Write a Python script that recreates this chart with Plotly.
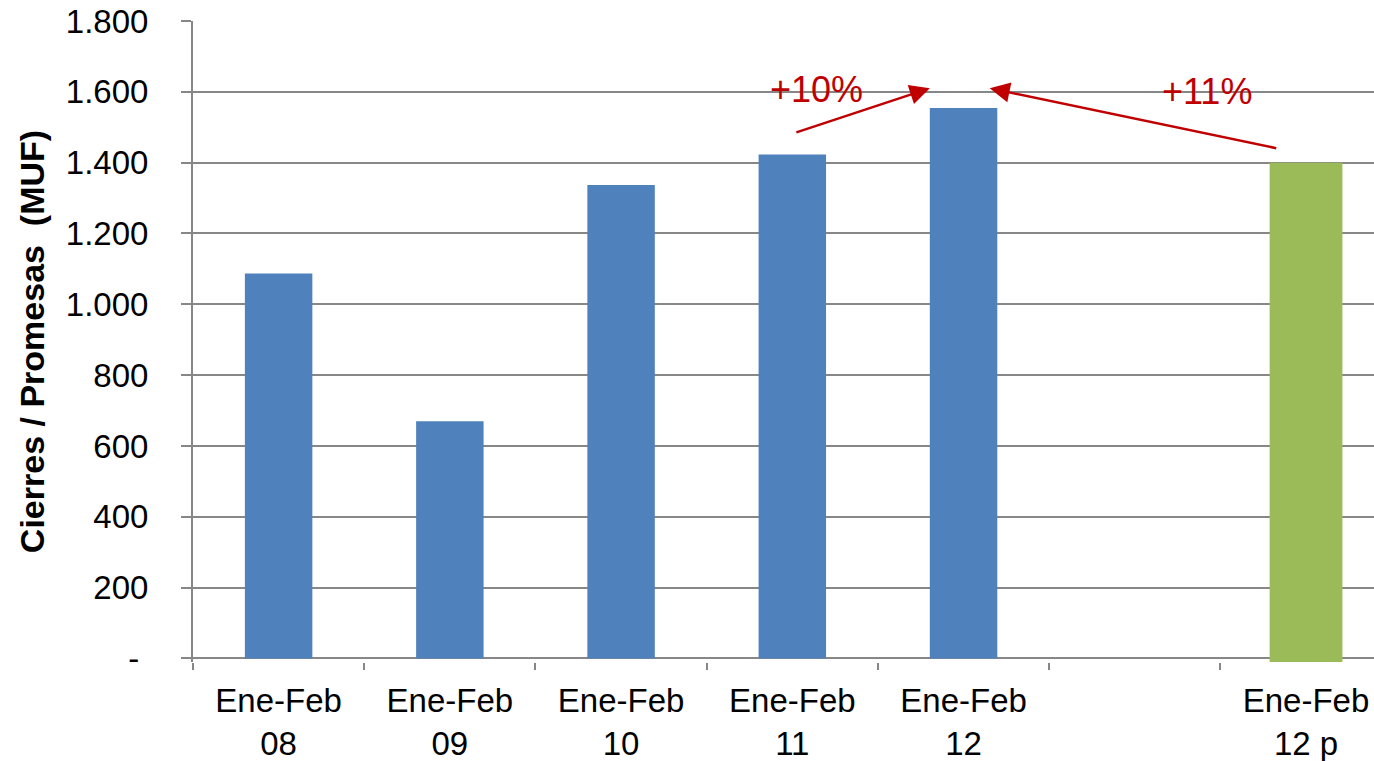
import plotly.graph_objects as go

categories = ["Ene-Feb<br>08", "Ene-Feb<br>09", "Ene-Feb<br>10", "Ene-Feb<br>11", "Ene-Feb<br>12", " ", "Ene-Feb<br>12 p"]
real_values = [1087, 670, 1337, 1423, 1554, None, None]
proj_values = [None, None, None, None, None, None, 1410]
proj_base = [0, 0, 0, 0, 0, 0, -10]
ytick_vals = [0, 200, 400, 600, 800, 1000, 1200, 1400, 1600, 1800]
ytick_text = ["-\u00a0", "200", "400", "600", "800", "1.000", "1.200", "1.400", "1.600", "1.800"]

fig = go.Figure()
fig.add_trace(go.Bar(x=categories, y=real_values, marker=dict(color="#4F81BD", line=dict(width=0)),
                     width=0.394, showlegend=False))
fig.add_trace(go.Bar(x=categories, y=proj_values, base=proj_base, marker=dict(color="#9BBB59", line=dict(width=0)),
                     width=0.425, showlegend=False))

red = "#C00000"
fig.add_annotation(x=3.803, y=1610, ax=3.015, ay=1484, xref="x", yref="y", axref="x", ayref="y",
                   text="", showarrow=True, arrowhead=2, arrowsize=1.6, arrowwidth=2.5, arrowcolor=red)
fig.add_annotation(x=4.153, y=1610, ax=5.835, ay=1440, xref="x", yref="y", axref="x", ayref="y",
                   text="", showarrow=True, arrowhead=2, arrowsize=1.6, arrowwidth=2.5, arrowcolor=red)
fig.add_annotation(x=3.143, y=1608, text="+10%", showarrow=False, font=dict(size=36, color=red, family="Liberation Sans"))
fig.add_annotation(x=5.42, y=1600, text="+11%", showarrow=False, font=dict(size=36, color=red, family="Liberation Sans"))

fig.update_layout(
    width=1374, height=761,
    margin=dict(l=193, r=0, t=21, b=99),
    plot_bgcolor="white", paper_bgcolor="white",
    barmode="overlay",
    font=dict(family="Liberation Sans", size=33, color="black"),
    xaxis=dict(type="category", range=[-0.5, 6.397], tickson="boundaries", ticks="outside", ticklen=7,
               tickwidth=2, tickcolor="#878787", showline=False, showgrid=False, zeroline=False,
               tickfont=dict(size=33), ticklabelstandoff=16, automargin=False),
    yaxis=dict(range=[-10, 1800], tickvals=ytick_vals, ticktext=ytick_text, ticks="outside", ticklen=10,
               tickwidth=2, tickcolor="#878787", showline=True, linecolor="#878787", linewidth=2,
               showgrid=True, gridcolor="#878787", gridwidth=2, zeroline=True, zerolinecolor="#878787",
               zerolinewidth=2, ticklabelstandoff=26, tickfont=dict(size=33), automargin=False,
               title=dict(text="<b>Cierres / Promesas  (MUF)</b>", font=dict(size=34), standoff=11)),
)
fig.write_html("out.html")
